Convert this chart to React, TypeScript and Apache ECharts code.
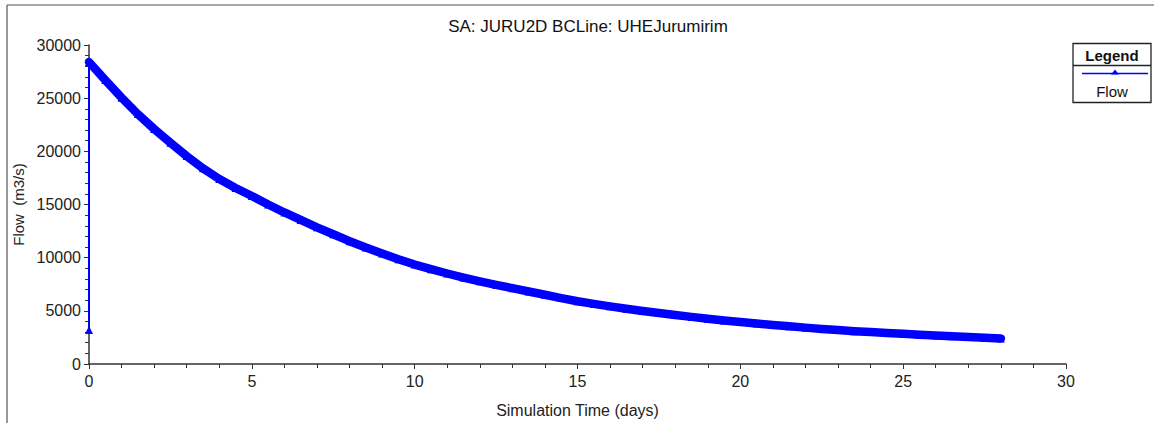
import React, { useEffect, useRef } from "react";
import * as echarts from "echarts";

const TITLE = "SA: JURU2D BCLine: UHEJurumirim";
const SERIES_NAME = "Flow";
const X_NAME = "Simulation Time (days)";
const Y_NAME = "Flow  (m3/s)";

// initial boundary value at t = 0
const initialTime = 0;
const initialFlow = 3200;

const times = [
  0, 0.5, 1, 1.5, 2, 2.5, 3, 3.5, 4, 4.5, 5, 5.5, 6, 6.5, 7, 7.5, 8, 8.5, 9, 9.5,
  10, 10.5, 11, 11.5, 12, 12.5, 13, 13.5, 14, 14.5, 15, 15.5, 16, 16.5, 17, 17.5,
  18, 18.5, 19, 19.5, 20, 20.5, 21, 21.5, 22, 22.5, 23, 23.5, 24, 24.5, 25, 25.5,
  26, 26.5, 27, 27.5, 28,
];
const flows = [
  28400, 26700, 25050, 23500, 22100, 20800, 19550, 18400, 17400, 16550, 15800,
  15000, 14250, 13550, 12850, 12200, 11550, 10950, 10400, 9850, 9350, 8920, 8510,
  8130, 7780, 7450, 7130, 6820, 6510, 6200, 5900, 5650, 5420, 5200, 4990, 4790,
  4600, 4430, 4260, 4100, 3950, 3800, 3670, 3540, 3420, 3300, 3190, 3090, 3000,
  2920, 2840, 2760, 2680, 2610, 2540, 2470, 2400,
];

const X_MIN = 0;
const X_MAX = 30;
const X_INTERVAL = 5;
const Y_MIN = 0;
const Y_MAX = 30000;
const Y_INTERVAL = 5000;

const BLUE = "#0000ff";
const AXIS = "#333333";
const FONT = "Liberation Sans, Arial, sans-serif";

export default function App() {
  const ref = useRef<HTMLDivElement>(null);

  useEffect(() => {
    if (!ref.current) return;
    const chart = echarts.init(ref.current, undefined, { renderer: "svg" });

    const curve = times.map((t, i) => [t, flows[i]]);
    const full = [[initialTime, initialFlow], ...curve];

    chart.setOption({
      animation: false,
      backgroundColor: "#ffffff",
      title: {
        text: TITLE,
        left: 583,
        top: 13,
        textAlign: "center",
        textStyle: { fontFamily: FONT, fontSize: 17, fontWeight: "normal", color: "#111" },
      },
      legend: { show: false },
      grid: { left: 89, right: 88, top: 45, bottom: 55, containLabel: false },
      xAxis: {
        type: "value",
        min: X_MIN,
        max: X_MAX,
        interval: X_INTERVAL,
        name: X_NAME,
        nameLocation: "middle",
        nameGap: 38,
        nameTextStyle: { fontFamily: FONT, fontSize: 16, color: "#222" },
        axisLine: { show: true, onZero: false, lineStyle: { color: AXIS, width: 1.5 } },
        axisTick: { show: true, length: 5, lineStyle: { color: AXIS } },
        minorTick: { show: true, splitNumber: 5, length: 4, lineStyle: { color: AXIS } },
        splitLine: { show: false },
        axisLabel: { fontFamily: FONT, fontSize: 16, color: "#222", margin: 9 },
      },
      yAxis: {
        type: "value",
        min: Y_MIN,
        max: Y_MAX,
        interval: Y_INTERVAL,
        name: Y_NAME,
        nameLocation: "middle",
        nameGap: 57,
        nameTextStyle: { fontFamily: FONT, fontSize: 15, color: "#222" },
        axisLine: { show: true, onZero: false, lineStyle: { color: AXIS, width: 1.5 } },
        axisTick: { show: true, length: 5, lineStyle: { color: AXIS } },
        minorTick: { show: true, splitNumber: 5, length: 4, lineStyle: { color: AXIS } },
        splitLine: { show: false },
        axisLabel: {
          fontFamily: FONT,
          fontSize: 16,
          color: "#222",
          margin: 8,
          formatter: (v: number) => String(v),
        },
      },
      series: [
        {
          name: SERIES_NAME,
          type: "line",
          data: full,
          symbol: "triangle",
          symbolSize: 8,
          showAllSymbol: true,
          lineStyle: { color: BLUE, width: 2 },
          itemStyle: { color: BLUE },
          z: 3,
        },
        {
          name: SERIES_NAME + " band",
          type: "line",
          data: curve,
          symbol: "none",
          lineStyle: { color: BLUE, width: 8.5, cap: "round", join: "round" },
          z: 2,
        },
      ],
      graphic: [
        { type: "line", shape: { x1: 7, y1: 5, x2: 1154, y2: 5 }, style: { stroke: "#555", lineWidth: 1.2 } },
        { type: "line", shape: { x1: 7, y1: 5, x2: 7, y2: 423 }, style: { stroke: "#555", lineWidth: 1.2 } },
        {
          type: "rect",
          shape: { x: 1073, y: 43.5, width: 78, height: 59 },
          style: { fill: "#fff", stroke: "#222", lineWidth: 1.3 },
        },
        { type: "line", shape: { x1: 1073, y1: 65.5, x2: 1151, y2: 65.5 }, style: { stroke: "#222", lineWidth: 1.3 } },
        {
          type: "text",
          x: 1112,
          y: 55,
          style: { text: "Legend", fontFamily: FONT, fontSize: 15, fontWeight: "bold", fill: "#111", align: "center", verticalAlign: "middle" },
        },
        { type: "line", shape: { x1: 1082, y1: 73.5, x2: 1148, y2: 73.5 }, style: { stroke: BLUE, lineWidth: 1.5 } },
        { type: "polygon", shape: { points: [[1115, 69.5], [1111, 74.5], [1119, 74.5]] }, style: { fill: BLUE } },
        {
          type: "text",
          x: 1112,
          y: 91,
          style: { text: SERIES_NAME, fontFamily: FONT, fontSize: 15, fill: "#111", align: "center", verticalAlign: "middle" },
        },
      ],
    });

    return () => chart.dispose();
  }, []);

  return <div ref={ref} style={{ width: 1154, height: 423, position: "absolute", left: 0, top: 0 }} />;
}
